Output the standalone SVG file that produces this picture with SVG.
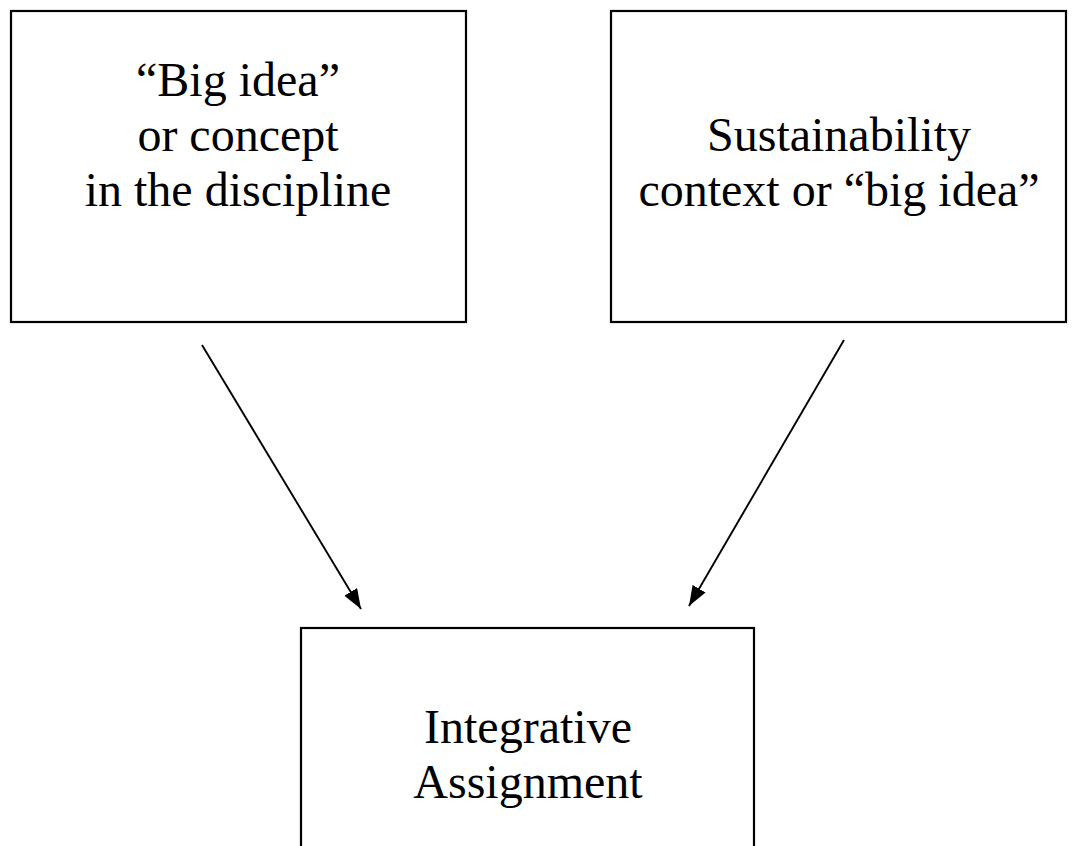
<svg xmlns="http://www.w3.org/2000/svg" width="1078" height="846" viewBox="0 0 1078 846">
<style>
.box{fill:#fff;stroke:#000;stroke-width:2.2}
.t{font-family:"Liberation Serif","Times New Roman",serif;font-size:48px;fill:#000;text-anchor:middle}
.c{stroke:#000;stroke-width:1.9;fill:none}
</style>
<defs>
<marker id="ah" viewBox="0 0 20 15" refX="20" refY="7.5" markerWidth="20" markerHeight="15" markerUnits="userSpaceOnUse" orient="auto">
<path d="M0,0 L20,7.5 L0,15 z" fill="#000"/>
</marker>
</defs>
<rect width="1078" height="846" fill="#fff"/>
<g id="n1">
<rect class="box" x="11" y="11" width="455" height="311"/>
<text class="t" x="238" y="96">“Big idea”</text>
<text class="t" x="238" y="151">or concept</text>
<text class="t" x="238" y="206">in the discipline</text>
</g>
<g id="n2">
<rect class="box" x="611" y="11" width="455" height="311"/>
<text class="t" x="839" y="151">Sustainability</text>
<text class="t" x="839" y="206">context or “big idea”</text>
</g>
<g id="n3">
<rect class="box" x="301" y="628" width="453" height="240"/>
<text class="t" x="528" y="743">Integrative</text>
<text class="t" x="528" y="798">Assignment</text>
</g>
<g id="connectors">
<line class="c" x1="202" y1="345" x2="361" y2="609" marker-end="url(#ah)"/>
<line class="c" x1="844" y1="340" x2="689" y2="606" marker-end="url(#ah)"/>
</g>
</svg>
